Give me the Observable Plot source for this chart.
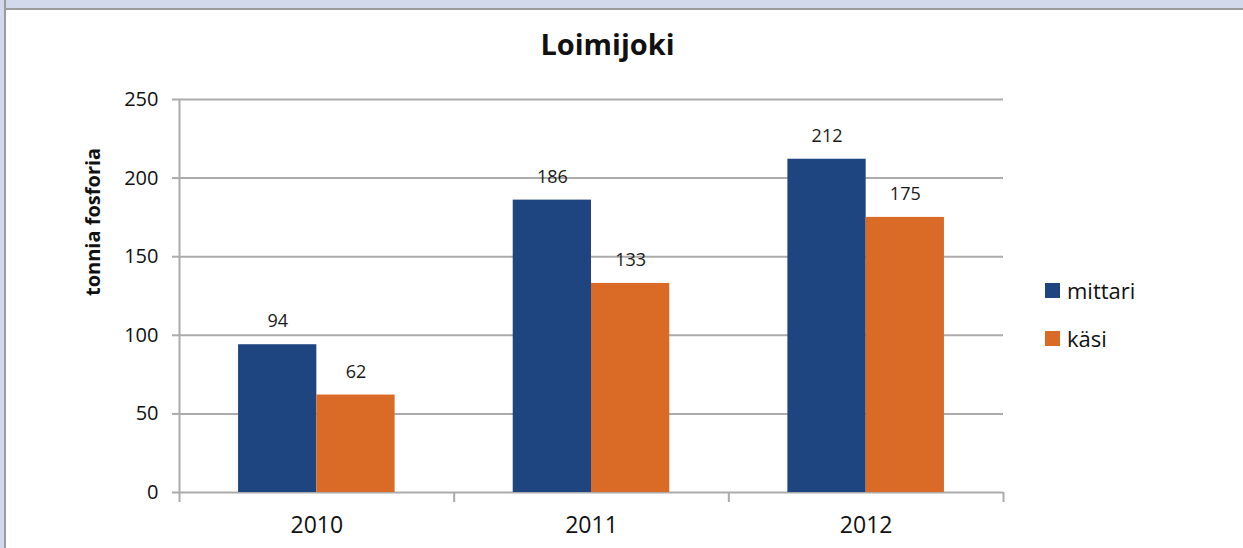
<!DOCTYPE html>
<html>
<head>
<meta charset="utf-8">
<script src="https://cdn.jsdelivr.net/npm/d3@7"></script>
<script src="https://cdn.jsdelivr.net/npm/@observablehq/plot@0.6"></script>
<style>
  html, body { margin: 0; padding: 0; background: #fff; }
  #wrap { position: relative; width: 1243px; height: 548px; overflow: hidden; background: #fff; font-family: "Open Sans", sans-serif; }
  #topband { position: absolute; left: 0; top: 0; width: 1243px; height: 8px; background: #D3D9EC; border-bottom: 2px solid #9C9C9C; z-index: 2; }
  #leftband { position: absolute; left: 0; top: 0; width: 4px; height: 548px; background: #D3D9EC; border-right: 2px solid #9C9C9C; z-index: 2; }
  #chart { position: absolute; left: 0; top: 0; }
  #title { position: absolute; left: 0; width: 1215px; top: 24px; text-align: center; font-size: 29px; font-weight: 700; color: #111; z-index: 3; }
  .leg { position: absolute; left: 1045px; display: flex; align-items: center; font-size: 22px; color: #111; z-index: 3; }
  .leg span.sw { display: inline-block; width: 15px; height: 15px; margin-right: 7px; }
</style>
</head>
<body>
<div id="wrap">
  <div id="topband"></div>
  <div id="leftband"></div>
  <div id="title">Loimijoki</div>
  <div id="chart"></div>
  <div id="legend"></div>
</div>
<script>
const years = ["2010", "2011", "2012"];
const seriesNames = ["mittari", "käsi"];
const mittari = [94, 186, 212];
const kasi = [62, 133, 175];
const colors = ["#1F4580", "#D96B27"];
const yTicks = [0, 50, 100, 150, 200, 250];

const data = [];
years.forEach((yr, i) => {
  data.push({year: yr, yi: i, series: seriesNames[0], si: 0, value: mittari[i]});
  data.push({year: yr, yi: i, series: seriesNames[1], si: 1, value: kasi[i]});
});

const barFrac = 0.285;
const x1 = d => d.yi + 0.5 + (d.si - 1) * barFrac;
const x2 = d => d.yi + 0.5 + d.si * barFrac;
const xc = d => d.yi + 0.5 + (d.si - 0.5) * barFrac;

const chart = Plot.plot({
  width: 1243,
  height: 548,
  marginLeft: 179,
  marginRight: 240,
  marginTop: 99,
  marginBottom: 56,
  style: {fontFamily: "'Open Sans', sans-serif", background: "transparent", color: "#111"},
  x: {type: "linear", domain: [0, years.length], axis: null},
  y: {domain: [0, 250], axis: null},
  color: {domain: seriesNames, range: colors},
  marks: [
    Plot.ruleY(yTicks, {stroke: "#ABABAB", strokeWidth: 2, x1: 0, x2: years.length}),
    Plot.axisY(yTicks, {tickSize: 7, tickPadding: 14, stroke: "#ABABAB", strokeWidth: 2, fontSize: 20, fill: "#111", label: null, anchor: "left"}),
    Plot.text(["tonnia fosforia"], {frameAnchor: "left", rotate: -90, dx: -86, fontSize: 20, fontWeight: 700, fill: "#111"}),
    Plot.rectY(data, {x1, x2, y: "value", fill: "series"}),
    Plot.text(data, {x: xc, y: "value", text: d => String(d.value), dy: -23, fontSize: 18, fill: "#1a1a1a"}),
    Plot.ruleX([0], {stroke: "#ABABAB", strokeWidth: 2}),
    Plot.axisX(d3.range(years.length + 1), {tickSize: 10, tickFormat: () => "", stroke: "#ABABAB", strokeWidth: 2, label: null}),
    Plot.axisX(years.map((_, i) => i + 0.5), {tickSize: 0, tickPadding: 24, tickFormat: v => years[Math.floor(v)], fontSize: 23, fill: "#111", label: null})
  ]
});
document.getElementById("chart").appendChild(chart);

const legend = document.getElementById("legend");
const legTops = [275, 323];
seriesNames.forEach((s, i) => {
  const el = document.createElement("div");
  el.className = "leg";
  el.style.top = legTops[i] + "px";
  el.innerHTML = `<span class="sw" style="background:${colors[i]}"></span>${s}`;
  legend.appendChild(el);
});
</script>
</body>
</html>
